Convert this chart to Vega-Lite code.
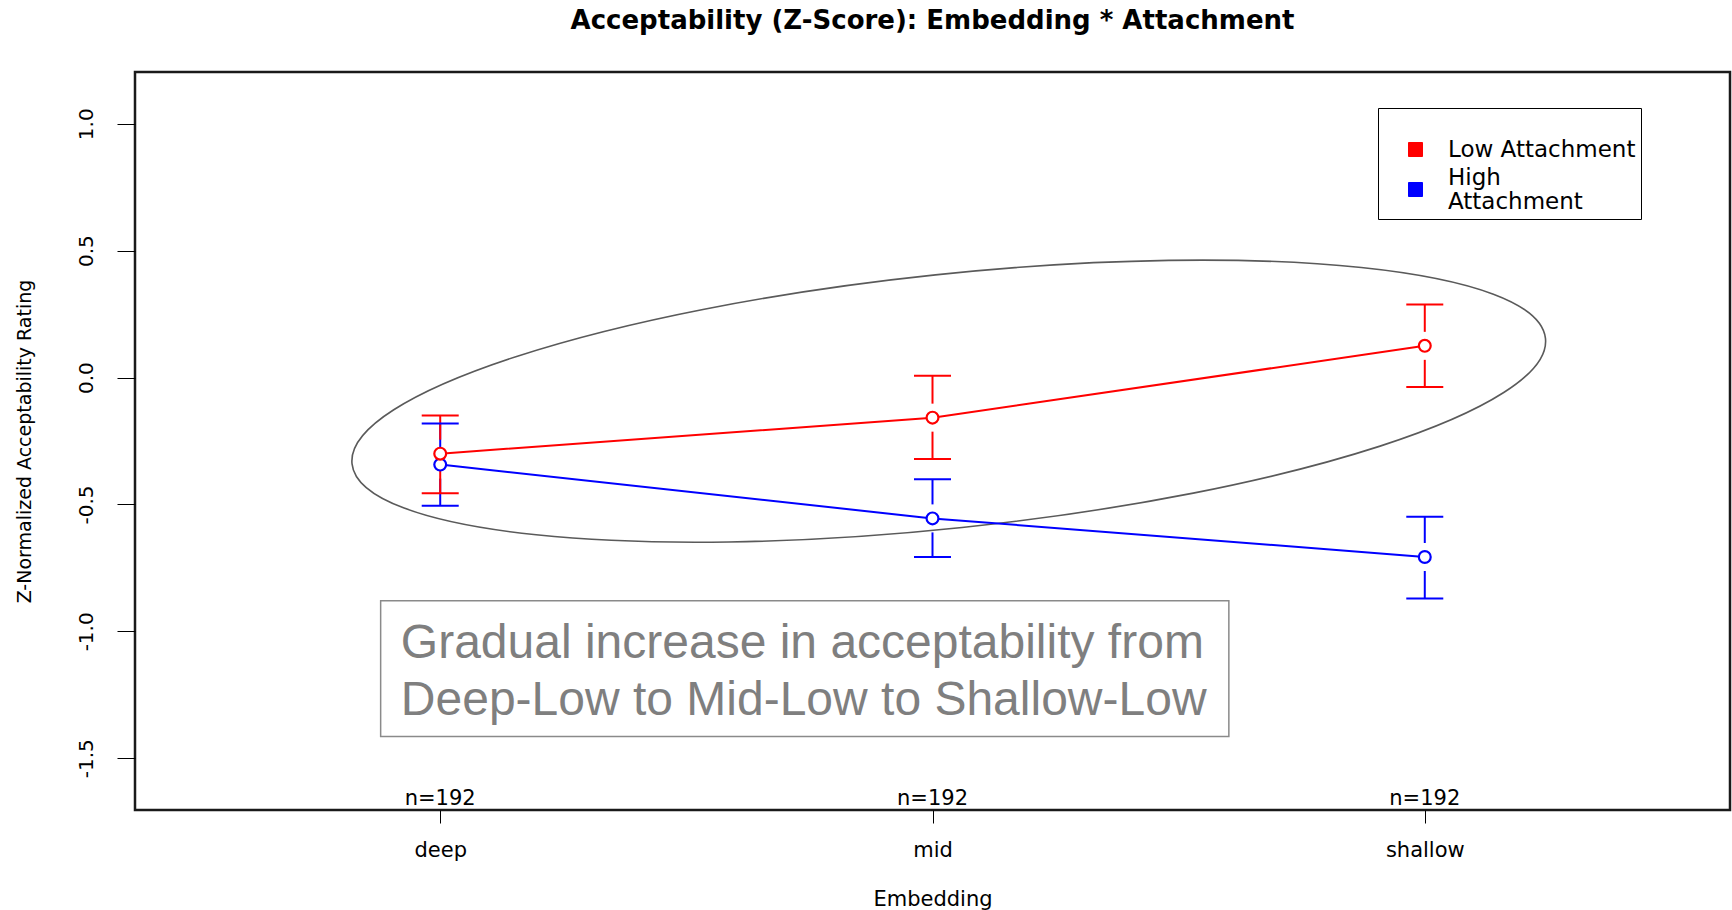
{
  "$schema": "https://vega.github.io/schema/vega-lite/v6.json",
  "width": 1595,
  "height": 738,
  "autosize": {"type": "none"},
  "padding": {"left": 135, "top": 72, "right": 2, "bottom": 100},
  "background": "white",
  "title": {
    "text": "Acceptability (Z-Score): Embedding * Attachment",
    "font": "DejaVu Sans",
    "fontSize": 26,
    "fontWeight": "bold",
    "color": "black",
    "anchor": "middle",
    "baseline": "alphabetic",
    "offset": 17
  },
  "config": {
    "view": {"stroke": "#1a1a1a", "strokeWidth": 2.5},
    "font": "DejaVu Sans",
    "axis": {
      "domain": false,
      "grid": false,
      "tickColor": "black",
      "tickWidth": 1,
      "labelColor": "black",
      "titleColor": "black",
      "labelFont": "DejaVu Sans",
      "titleFont": "DejaVu Sans",
      "titleFontWeight": "normal"
    }
  },
  "datasets": {
    "means": [
      {"embedding": "deep", "attachment": "High Attachment", "mean": -0.343, "lo": -0.505, "hi": -0.181},
      {"embedding": "mid", "attachment": "High Attachment", "mean": -0.555, "lo": -0.707, "hi": -0.401},
      {"embedding": "shallow", "attachment": "High Attachment", "mean": -0.707, "lo": -0.871, "hi": -0.548},
      {"embedding": "deep", "attachment": "Low Attachment", "mean": -0.300, "lo": -0.456, "hi": -0.150},
      {"embedding": "mid", "attachment": "Low Attachment", "mean": -0.158, "lo": -0.321, "hi": 0.007},
      {"embedding": "shallow", "attachment": "Low Attachment", "mean": 0.125, "lo": -0.037, "hi": 0.288}
    ],
    "counts": [
      {"embedding": "deep", "n": 192},
      {"embedding": "mid", "n": 192},
      {"embedding": "shallow", "n": 192}
    ]
  },
  "layer": [
    {
      "layer": [
        {
          "data": {"values": [{"position": 2.033, "rating": -0.093}]},
          "mark": {
            "type": "point",
            "shape": "M 1 0 C 1 0.1169 0.5523 0.2117 0 0.2117 C -0.5523 0.2117 -1 0.1169 -1 0 C -1 -0.1169 -0.5523 -0.2117 0 -0.2117 C 0.5523 -0.2117 1 -0.1169 1 0 Z",
            "size": 1440000,
            "angle": 354,
            "filled": false,
            "stroke": "#5a5a5a",
            "strokeWidth": 1.6,
            "opacity": 1
          },
          "encoding": {
            "x": {"field": "position", "type": "quantitative", "scale": {"domain": [0.38, 3.62], "nice": false, "zero": false}, "axis": null},
            "y": {"field": "rating", "type": "quantitative", "title": "Z-Normalized Acceptability Rating", "scale": {"domain": [-1.704, 1.204], "nice": false, "zero": false}}
          }
        },
        {
          "data": {"values": [{"from": 0.879, "to": 2.602, "top": -0.879, "bottom": -1.414}]},
          "mark": {"type": "rect", "fill": "white", "stroke": "#8a8a8a", "strokeWidth": 1.5},
          "encoding": {
            "x": {"field": "from", "type": "quantitative", "scale": {"domain": [0.38, 3.62], "nice": false, "zero": false}, "axis": null},
            "x2": {"field": "to"},
            "y": {"field": "top", "type": "quantitative", "title": "Z-Normalized Acceptability Rating", "scale": {"domain": [-1.704, 1.204], "nice": false, "zero": false}},
            "y2": {"field": "bottom"}
          }
        },
        {
          "data": {"values": [
            {"line": "Gradual increase in acceptability from", "position": 0.92, "rating": -1.107},
            {"line": "Deep-Low to Mid-Low to Shallow-Low", "position": 0.92, "rating": -1.328}
          ]},
          "mark": {"type": "text", "font": "Liberation Sans", "fontSize": 48, "fill": "#7f7f7f", "align": "left", "baseline": "alphabetic"},
          "encoding": {
            "x": {"field": "position", "type": "quantitative", "scale": {"domain": [0.38, 3.62], "nice": false, "zero": false}, "axis": null},
            "y": {"field": "rating", "type": "quantitative", "title": "Z-Normalized Acceptability Rating", "scale": {"domain": [-1.704, 1.204], "nice": false, "zero": false}},
            "text": {"field": "line"}
          }
        }
      ]
    },
    {
      "encoding": {
        "x": {
          "field": "embedding",
          "type": "nominal",
          "sort": ["deep", "mid", "shallow"],
          "scale": {"type": "point", "padding": 0.62},
          "axis": {
            "title": "Embedding",
            "labelAngle": 0,
            "labelFontSize": 21,
            "labelBaseline": "alphabetic",
            "labelPadding": 33,
            "tickSize": 13,
            "titleFontSize": 21,
            "titleY": 95,
            "titleBaseline": "alphabetic"
          }
        },
        "color": {
          "field": "attachment",
          "type": "nominal",
          "scale": {"domain": ["Low Attachment", "High Attachment"], "range": ["#ff0000", "#0000ff"]},
          "legend": {
            "title": " ",
            "titleFontSize": 12,
            "titlePadding": 13,
            "orient": "none",
            "legendX": 1243,
            "legendY": 36,
            "strokeColor": "black",
            "fillColor": "white",
            "padding": 5,
            "labelFont": "DejaVu Sans",
            "labelFontSize": 23,
            "labelColor": "black",
            "labelLimit": 400,
            "labelOffset": 21,
            "symbolOffset": 21,
            "symbolType": "square",
            "symbolSize": 196,
            "rowPadding": 4,
            "labelExpr": "datum.label == 'High Attachment' ? ['High', 'Attachment'] : datum.label",
            "encode": {
              "symbols": {"update": {
                "fill": {"scale": "color", "field": "value"},
                "stroke": {"value": "black"},
                "strokeWidth": {"value": 1},
                "opacity": {"value": 1},
                "shape": {"value": "square"}
              }},
              "labels": {"update": {
                "lineHeight": {"value": 24},
                "dy": {"signal": "datum.label == 'High Attachment' ? -12 : 0"}
              }}
            }
          }
        }
      },
      "layer": [
        {
          "data": {"name": "means"},
          "mark": {"type": "rule", "strokeWidth": 2, "y2Offset": -14},
          "encoding": {
            "y": {"field": "hi", "type": "quantitative", "title": "Z-Normalized Acceptability Rating", "scale": {"domain": [-1.704, 1.204], "nice": false, "zero": false}},
            "y2": {"field": "mean"}
          }
        },
        {
          "data": {"name": "means"},
          "mark": {"type": "rule", "strokeWidth": 2, "yOffset": 14},
          "encoding": {
            "y": {"field": "mean", "type": "quantitative", "title": "Z-Normalized Acceptability Rating", "scale": {"domain": [-1.704, 1.204], "nice": false, "zero": false}},
            "y2": {"field": "lo"}
          }
        },
        {
          "data": {"name": "means"},
          "mark": {"type": "tick", "size": 37, "thickness": 2, "opacity": 1},
          "encoding": {
            "y": {"field": "hi", "type": "quantitative", "title": "Z-Normalized Acceptability Rating", "scale": {"domain": [-1.704, 1.204], "nice": false, "zero": false}}
          }
        },
        {
          "data": {"name": "means"},
          "mark": {"type": "tick", "size": 37, "thickness": 2, "opacity": 1},
          "encoding": {
            "y": {"field": "lo", "type": "quantitative", "title": "Z-Normalized Acceptability Rating", "scale": {"domain": [-1.704, 1.204], "nice": false, "zero": false}}
          }
        },
        {
          "data": {"name": "means"},
          "mark": {"type": "line", "strokeWidth": 2},
          "encoding": {
            "y": {
              "field": "mean",
              "type": "quantitative",
              "title": "Z-Normalized Acceptability Rating",
              "scale": {"domain": [-1.704, 1.204], "nice": false, "zero": false},
              "axis": {
                "values": [-1.5, -1, -0.5, 0, 0.5, 1],
                "labelExpr": "replace(format(datum.value, '.1f'), '\u2212', '-')",
                "labelAngle": -90,
                "labelAlign": "center",
                "labelBaseline": "alphabetic",
                "labelPadding": 25,
                "labelFontSize": 20,
                "tickSize": 18,
                "titleFontSize": 19,
                "titleX": -111,
                "titleBaseline": "middle"
              }
            }
          }
        },
        {
          "data": {"name": "means"},
          "mark": {"type": "point", "filled": false, "fill": "white", "size": 140, "strokeWidth": 2.2, "opacity": 1},
          "encoding": {
            "y": {"field": "mean", "type": "quantitative", "title": "Z-Normalized Acceptability Rating", "scale": {"domain": [-1.704, 1.204], "nice": false, "zero": false}}
          }
        },
        {
          "data": {"name": "counts"},
          "transform": [{"calculate": "'n=' + datum.n", "as": "label"}],
          "mark": {"type": "text", "font": "DejaVu Sans", "fontSize": 21, "baseline": "alphabetic", "align": "center", "dy": -5},
          "encoding": {
            "y": {"datum": -1.704, "type": "quantitative", "title": "Z-Normalized Acceptability Rating", "scale": {"domain": [-1.704, 1.204], "nice": false, "zero": false}},
            "text": {"field": "label"},
            "color": {"value": "black"}
          }
        }
      ]
    }
  ],
  "resolve": {"scale": {"x": "independent"}}
}
